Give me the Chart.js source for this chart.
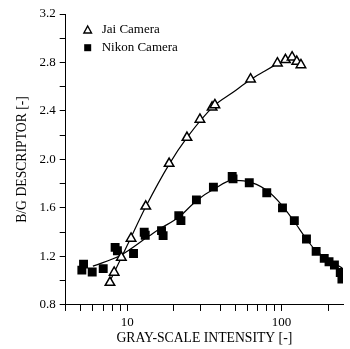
<!DOCTYPE html>
<html>
<head>
<meta charset="utf-8">
<script src="https://cdn.jsdelivr.net/npm/chart.js@4.4.1/dist/chart.umd.min.js"></script>
<style>
  html, body { margin: 0; padding: 0; background: #fff; }
</style>
</head>
<body>
<canvas id="chart" width="350" height="349"></canvas>
<script>
const jaiX = [7.74, 8.24, 9.17, 10.6, 13.2, 18.7, 24.4, 29.6, 35.5, 37, 63, 94, 106, 117, 125.5, 133.5];
const jaiY = [0.985, 1.068, 1.192, 1.349, 1.614, 1.966, 2.181, 2.33, 2.43, 2.45, 2.662, 2.794, 2.822, 2.844, 2.808, 2.78];

const nikonX = [5.09, 5.22, 5.94, 7.0, 8.36, 8.65, 11.0, 12.9, 13.1, 16.7, 17.1, 21.6, 22.3, 28.1, 36.2, 47.9, 48.5,
                61.8, 80.2, 101.4, 121, 145, 167.5, 189, 203, 220, 240, 246];
const nikonY = [1.087, 1.137, 1.072, 1.10, 1.275, 1.247, 1.225, 1.40, 1.375, 1.413, 1.372, 1.537, 1.496, 1.667, 1.772, 1.86, 1.84,
                1.808, 1.725, 1.601, 1.496, 1.344, 1.242, 1.184, 1.156, 1.129, 1.068, 1.013];

// fitted curves
const jaiFitX = [7.5, 10, 13.2, 18.7, 24.4, 36.4, 48, 63, 78, 94];
const jaiFitY = [0.96, 1.29, 1.61, 1.96, 2.18, 2.44, 2.55, 2.66, 2.73, 2.79];

const nikonFitX = [6.0, 9.1, 13.9, 16.2, 21.6, 28.1, 36.7, 47.9, 59.4, 79.4, 101, 122, 145, 167, 208, 250];
const nikonFitY = [1.12, 1.21, 1.37, 1.427, 1.523, 1.66, 1.758, 1.827, 1.82, 1.75, 1.62, 1.48, 1.344, 1.247, 1.165, 1.10];

const xTickValues = [4, 5, 6, 7, 8, 9, 10, 20, 30, 40, 50, 60, 70, 80, 90, 100, 200];
const xTickLabels = [10, 100];
const legendEntries = ['Jai Camera', 'Nikon Camera'];

const pts = (xs, ys) => xs.map((x, i) => ({ x: x, y: ys[i] }));
const font = { family: '"Liberation Serif", serif', size: 13 };
const titleFont = { family: '"Liberation Serif", serif', size: 13.7 };

// legend sits inside the plot, top-left
const innerLegend = {
    id: 'innerLegend',
    afterDraw(chart) {
        const { ctx, chartArea } = chart;
        ctx.save();
        ctx.font = '13px "Liberation Serif"';
        ctx.textBaseline = 'middle';
        ctx.fillStyle = '#000';
        ctx.strokeStyle = '#000';
        ctx.lineWidth = 1.4;
        const x = chartArea.left + 22;
        let y = chartArea.top + 16;
        ctx.beginPath();
        ctx.moveTo(x, y - 4);
        ctx.lineTo(x + 3.8, y + 3);
        ctx.lineTo(x - 3.8, y + 3);
        ctx.closePath();
        ctx.stroke();
        ctx.fillText(legendEntries[0], x + 14, y);
        y += 17.7;
        ctx.fillRect(x - 3.5, y - 3.5, 7, 7);
        ctx.fillText(legendEntries[1], x + 14, y);
        ctx.restore();
    }
};

new Chart(document.getElementById('chart'), {
    type: 'scatter',
    data: {
        datasets: [
            {
                label: legendEntries[0],
                data: pts(jaiX, jaiY),
                pointStyle: 'triangle',
                pointRadius: 5.5,
                pointBackgroundColor: '#fff',
                pointBorderColor: '#000',
                pointBorderWidth: 1.5,
                order: 0
            },
            {
                label: legendEntries[1],
                data: pts(nikonX, nikonY),
                pointStyle: 'rect',
                pointRadius: 6.3,
                pointBackgroundColor: '#000',
                pointBorderColor: '#000',
                pointBorderWidth: 0,
                order: 1
            },
            {
                label: 'Jai fit',
                data: pts(jaiFitX, jaiFitY),
                showLine: true,
                pointRadius: 0,
                borderColor: '#000',
                borderWidth: 1.2,
                cubicInterpolationMode: 'monotone',
                order: 2
            },
            {
                label: 'Nikon fit',
                data: pts(nikonFitX, nikonFitY),
                showLine: true,
                pointRadius: 0,
                borderColor: '#000',
                borderWidth: 1.2,
                cubicInterpolationMode: 'monotone',
                order: 3
            }
        ]
    },
    options: {
        responsive: false,
        animation: false,
        layout: { padding: { left: 14, top: 14, right: 0, bottom: 2 } },
        plugins: {
            legend: { display: false },
            tooltip: { enabled: false }
        },
        scales: {
            x: {
                type: 'logarithmic',
                min: 4,
                max: 250,
                afterBuildTicks: (scale) => {
                    scale.ticks = xTickValues.map(v => ({ value: v }));
                },
                ticks: {
                    autoSkip: false,
                    maxRotation: 0,
                    color: '#000',
                    font: font,
                    padding: 4,
                    callback: (v) => xTickLabels.includes(v) ? String(v) : ''
                },
                grid: { drawOnChartArea: false, tickLength: 6, tickColor: '#000' },
                border: { display: true, color: '#000', width: 1 },
                title: { display: true, text: 'GRAY-SCALE INTENSITY [-]', color: '#000', font: titleFont, padding: { top: -4, bottom: 0 } }
            },
            y: {
                min: 0.8,
                max: 3.2,
                ticks: {
                    stepSize: 0.2,
                    color: '#000',
                    font: font,
                    padding: 4,
                    callback: (v) => Math.round(v * 10) % 4 === 0 ? v.toFixed(1) : ''
                },
                grid: { drawOnChartArea: false, tickLength: 6, tickColor: '#000' },
                border: { display: true, color: '#000', width: 1 },
                title: { display: true, text: 'B/G DESCRIPTOR [-]', color: '#000', font: titleFont, padding: { top: 0, bottom: 5 } }
            }
        }
    },
    plugins: [innerLegend]
});
</script>
</body>
</html>
